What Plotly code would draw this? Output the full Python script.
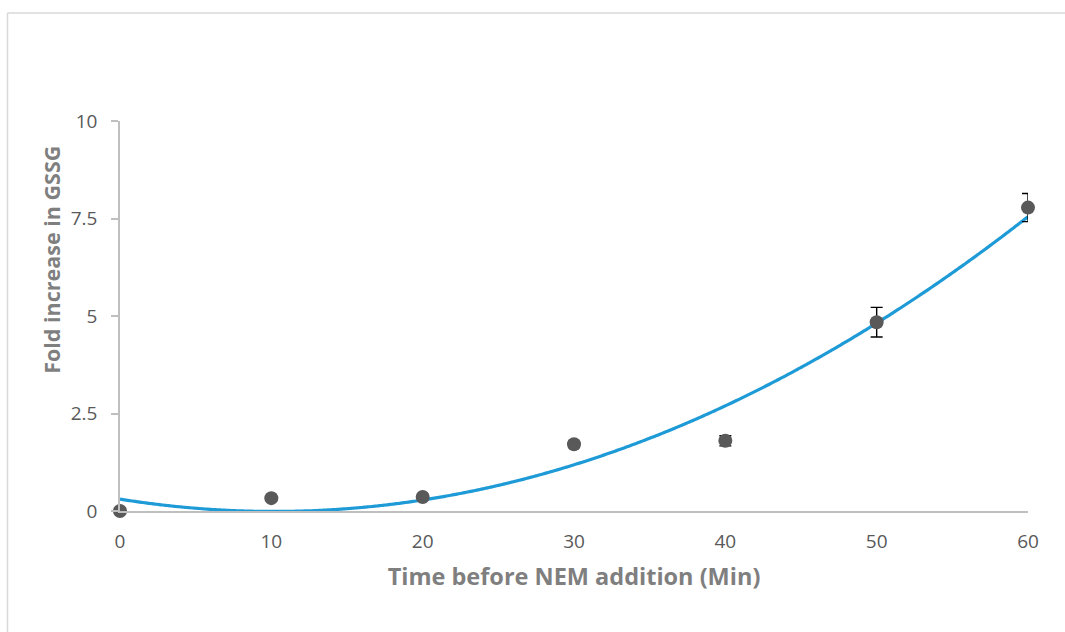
import numpy as np
import plotly.graph_objects as go

# Time before NEM addition (min) and fold increase in GSSG
time_min = [0, 10, 20, 30, 40, 50, 60]
fold_gssg = [0.0, 0.33, 0.36, 1.71, 1.80, 4.84, 7.78]
fold_err = [0.0, 0.03, 0.03, 0.08, 0.13, 0.38, 0.36]

x_ticks = [0, 10, 20, 30, 40, 50, 60]
y_ticks = [0, 2.5, 5, 7.5, 10]
y_tick_labels = ["0", "2.5", "5", "7.5", "10"]

# second-order polynomial trendline through the measured points
coef = np.polyfit(time_min, fold_gssg, 2)
x_fit = np.linspace(0, 60, 300)
y_fit = np.polyval(coef, x_fit)

fig = go.Figure()
fig.add_trace(go.Scatter(
    x=x_fit, y=y_fit, mode="lines",
    line=dict(color="#1e9bd7", width=3.2, shape="spline"),
    hoverinfo="skip", showlegend=False,
))
fig.add_trace(go.Scatter(
    x=time_min, y=fold_gssg, mode="markers",
    marker=dict(color="#595959", size=14),
    error_y=dict(type="data", array=fold_err, visible=True,
                 color="#000000", thickness=1.4, width=6),
    cliponaxis=False, showlegend=False,
))

axis_font = dict(family="Open Sans, sans-serif", size=19, color="#595959")
title_font = dict(family="Open Sans, sans-serif", size=23.5, color="#7f7f7f")

fig.update_xaxes(
    range=[0, 60], tickvals=x_ticks, ticks="", showgrid=False, zeroline=False,
    showline=True, linecolor="#bfbfbf", linewidth=1.5,
    tickfont=axis_font, ticklabelstandoff=12,
    title=dict(text="<b>Time before NEM addition (Min)</b>", font=title_font, standoff=16),
)
fig.update_yaxes(
    range=[0, 10], tickvals=y_ticks, ticktext=y_tick_labels,
    ticks="outside", ticklen=7, tickcolor="#bfbfbf", tickwidth=1.5,
    showgrid=False, zeroline=False,
    showline=True, linecolor="#bfbfbf", linewidth=1.5,
    tickfont=axis_font, ticklabelstandoff=10,
)

# y-axis title, placed as a rotated annotation
fig.add_annotation(
    text="<b>Fold increase in GSSG</b>", textangle=-90,
    xref="paper", yref="paper", x=-0.0749, y=0.644,
    xanchor="center", yanchor="middle", showarrow=False,
    font=dict(family="Open Sans, sans-serif", size=21.5, color="#7f7f7f"),
)

# chart-area border (top and left edges visible)
border = dict(color="#d9d9d9", width=1.5)
fig.add_shape(type="line", xref="paper", yref="paper",
              x0=-0.1239, x1=-0.1239, y0=-0.5, y1=1.277, line=border)
fig.add_shape(type="line", xref="paper", yref="paper",
              x0=-0.1239, x1=1.2, y0=1.277, y1=1.277, line=border)

fig.update_layout(
    width=1065, height=632,
    margin=dict(l=120, r=37, t=121, b=121),
    paper_bgcolor="white", plot_bgcolor="white",
)

fig.write_html("out.html")
